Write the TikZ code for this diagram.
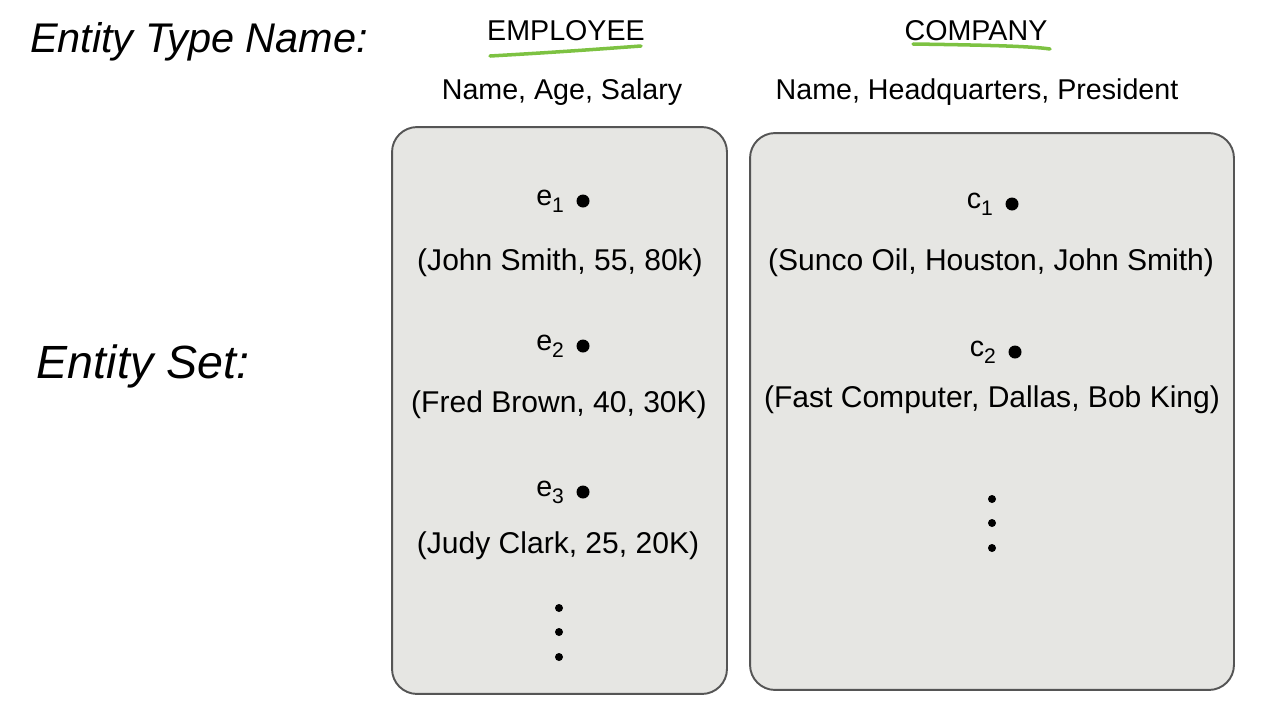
\documentclass[tikz,border=0pt]{standalone}
\usepackage{fontspec}
\setmainfont{Liberation Sans}
\usetikzlibrary{positioning}
\definecolor{setfill}{HTML}{E6E6E3}
\definecolor{setline}{HTML}{555555}
\definecolor{mark}{HTML}{7DC242}
\newcommand{\sub}[1]{\raisebox{-0.45ex}{\fontsize{12}{12}\selectfont #1}}

\begin{document}
\begin{tikzpicture}[x=0.02cm, y=-0.02cm, font=\fontsize{16.3}{19}\selectfont,
  box/.style={draw=setline, line width=1.1pt, fill=setfill, rounded corners=0.5cm},
  dot/.style={circle, fill=black, inner sep=0pt, minimum size=0.26cm},
  vdot/.style={circle, fill=black, inner sep=0pt, minimum size=0.16cm},
  val/.style={font=\fontsize{17.1}{20}\selectfont},
  lbl/.style={font=\fontsize{23.6}{28}\selectfont\itshape},
  hl/.style={draw=mark, line width=2pt, line cap=round}]
\useasboundingbox (0,0) rectangle (1280,724);
% entity types
\node[lbl] (tname) at (199,42) {Entity Type Name:};
\node[lbl, font=\fontsize{26.5}{30}\selectfont\itshape] (tset) at (143,366) {Entity Set:};
\node (emp) at (566,31) {EMPLOYEE};
\node (comp) at (976,31) {COMPANY};
\node (empatt) at (562,92) {Name, Age, Salary};
\node (compatt) at (977,92) {Name, Headquarters, President};
\draw[hl] (490,56) .. controls (560,52) and (600,49) .. (641,46);
\draw[hl] (913,44) .. controls (980,45) and (1030,46) .. (1050,49);
% entity sets
\node[box, minimum width=6.7cm, minimum height=11.34cm] (empset) at (559.5,410.5) {};
\node[box, minimum width=9.68cm, minimum height=11.14cm] (compset) at (992,411.5) {};
% employees
\node[dot] (e1) at (583,201) {};
\node[left=0.12cm of e1] (e1l) {e\sub1};
\node[val] (e1v) at (560,263) {(John Smith, 55, 80k)};
\node[dot] (e2) at (583,346) {};
\node[left=0.12cm of e2] (e2l) {e\sub2};
\node[val] (e2v) at (559,405) {(Fred Brown, 40, 30K)};
\node[dot] (e3) at (583,492) {};
\node[left=0.12cm of e3] (e3l) {e\sub3};
\node[val] (e3v) at (558,546) {(Judy Clark, 25, 20K)};
\foreach \y [count=\i] in {608,632,657}
  \node[vdot] (ed\i) at (559,\y) {};
% companies
\node[dot] (c1) at (1012,204) {};
\node[left=0.12cm of c1] (c1l) {c\sub1};
\node[val] (c1v) at (991,263) {(Sunco Oil, Houston, John Smith)};
\node[dot] (c2) at (1015,352) {};
\node[left=0.12cm of c2] (c2l) {c\sub2};
\node[val] (c2v) at (992,400) {(Fast Computer, Dallas, Bob King)};
\foreach \y [count=\i] in {499,523,548}
  \node[vdot] (cd\i) at (992,\y) {};
\end{tikzpicture}
\end{document}
